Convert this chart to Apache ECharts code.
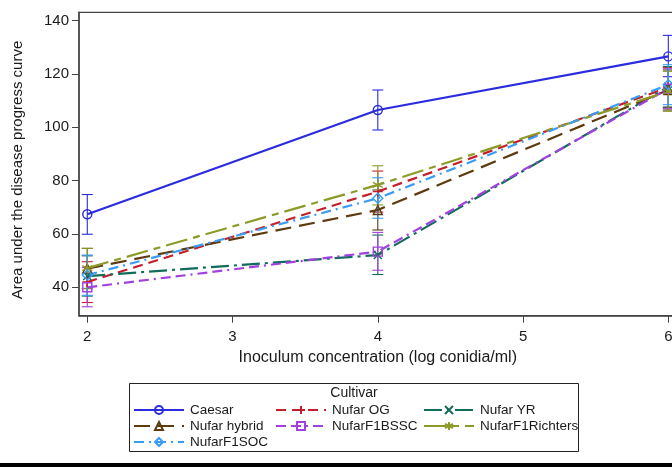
<!DOCTYPE html>
<html><head><meta charset="utf-8">
<script src="https://cdn.jsdelivr.net/npm/echarts@6/dist/echarts.min.js"></script>
<style>html,body{margin:0;padding:0;background:#fff}#c{width:672px;height:468px}</style>
</head><body><div id="c"></div>
<script>
// ---- data ----
const xValues = [2, 4, 6];
const xTicks = [2, 3, 4, 5, 6];
const yTicks = [40, 60, 80, 100, 120, 140];
const cultivars = ['Caesar', 'Nufar OG', 'Nufar YR', 'Nufar hybrid', 'NufarF1BSSC', 'NufarF1Richters', 'NufarF1SOC'];

const caesarMean = [67.4, 106.5, 126.6];
const caesarLow  = [59.9, 99.0, 119.0];
const caesarHigh = [74.8, 114.0, 134.5];

const ogMean = [42.0, 75.9, 115.0];
const ogLow  = [34.3, 68.2, 107.5];
const ogHigh = [49.6, 83.6, 122.5];

const yrMean = [44.2, 52.1, 115.2];
const yrLow  = [36.7, 44.8, 107.6];
const yrHigh = [51.8, 59.6, 122.8];

const hybridMean = [47.0, 69.0, 114.0];
const hybridLow  = [39.5, 61.5, 106.5];
const hybridHigh = [54.6, 76.5, 121.5];

const bsscMean = [40.0, 53.4, 114.5];
const bsscLow  = [32.7, 46.4, 107.0];
const bsscHigh = [47.4, 60.6, 122.0];

const richtersMean = [47.2, 78.4, 113.5];
const richtersLow  = [39.6, 70.9, 106.0];
const richtersHigh = [54.6, 85.6, 121.0];

const socMean = [44.6, 73.4, 116.0];
const socLow  = [37.0, 65.9, 108.5];
const socHigh = [52.1, 81.1, 123.5];

// ---- styles ----
const FONT = 'Liberation Sans, Arial, sans-serif';
const styles = {
  'Caesar':          {color: '#2b2be0', dash: 'solid',             symbol: 'circle',   size: 9},
  'Nufar OG':        {color: '#c41e2a', dash: [10, 6],             symbol: 'path://M5 0 L5 10 M0 5 L10 5', size: 10},
  'Nufar YR':        {color: '#136b5b', dash: [18, 5, 3, 5],       symbol: 'path://M0 0 L10 10 M10 0 L0 10', size: 8},
  'Nufar hybrid':    {color: '#5e3a0f', dash: [16, 8],             symbol: 'triangle', size: 9},
  'NufarF1BSSC':     {color: '#a340e0', dash: [10, 5, 10, 5, 2, 5], symbol: 'rect',    size: 9},
  'NufarF1Richters': {color: '#8c9a28', dash: [22, 6, 7, 6],       symbol: 'path://M5 0 L5 10 M0 2.5 L10 7.5 M0 7.5 L10 2.5', size: 10},
  'NufarF1SOC':      {color: '#3a9cf5', dash: [10, 5, 2, 5],       symbol: 'diamond',  size: 10}
};
const dataMap = {
  'Caesar': [caesarMean, caesarLow, caesarHigh],
  'Nufar OG': [ogMean, ogLow, ogHigh],
  'Nufar YR': [yrMean, yrLow, yrHigh],
  'Nufar hybrid': [hybridMean, hybridLow, hybridHigh],
  'NufarF1BSSC': [bsscMean, bsscLow, bsscHigh],
  'NufarF1Richters': [richtersMean, richtersLow, richtersHigh],
  'NufarF1SOC': [socMean, socLow, socHigh]
};

const series = [];
cultivars.forEach(name => {
  const s = styles[name];
  const [m, lo, hi] = dataMap[name];
  series.push({
    type: 'custom', name: name + ' CI', silent: true, z: 2,
    data: xValues.map((x, i) => [x, lo[i], hi[i]]),
    encode: {x: 0, y: [1, 2]},
    renderItem: function (params, api) {
      const p1 = api.coord([api.value(0), api.value(1)]);
      const p2 = api.coord([api.value(0), api.value(2)]);
      const w = 5.5;
      const st = {stroke: s.color, lineWidth: 1.1};
      return {type: 'group', children: [
        {type: 'line', shape: {x1: p1[0], y1: p1[1], x2: p2[0], y2: p2[1]}, style: st},
        {type: 'line', shape: {x1: p1[0] - w, y1: p1[1], x2: p1[0] + w, y2: p1[1]}, style: st},
        {type: 'line', shape: {x1: p2[0] - w, y1: p2[1], x2: p2[0] + w, y2: p2[1]}, style: st}
      ]};
    }
  });
});
cultivars.forEach(name => {
  const s = styles[name];
  const [m] = dataMap[name];
  series.push({
    type: 'line', name: name, z: 3,
    data: xValues.map((x, i) => [x, m[i]]),
    symbol: s.symbol, symbolSize: s.size, showSymbol: true,
    lineStyle: {color: s.color, width: 2.2, type: s.dash},
    itemStyle: {color: 'none', borderColor: s.color, borderWidth: 1.4},
    emphasis: {disabled: true}, animation: false
  });
});

const legendPos = {
  'Caesar': [133, 411], 'Nufar OG': [275, 411], 'Nufar YR': [423, 411],
  'Nufar hybrid': [133, 427], 'NufarF1BSSC': [275, 427], 'NufarF1Richters': [423, 427],
  'NufarF1SOC': [133, 443]
};
const legends = cultivars.map(name => ({
  data: [name], left: legendPos[name][0], top: legendPos[name][1] - 8,
  padding: 0, itemWidth: 50, itemHeight: 10, itemGap: 0,
  selectedMode: false,
  textStyle: {fontFamily: FONT, fontSize: 13.5, color: '#1a1a1a', padding: [0, 0, 0, 1]}
}));

const chart = echarts.init(document.getElementById('c'), null, {renderer: 'canvas'});
chart.setOption({
  animation: false,
  backgroundColor: '#fff',
  grid: {left: 79, top: 12.3, width: 597.6, height: 303.4, show: true, borderColor: '#444', borderWidth: 1.2,
         containLabel: false, outerBoundsMode: 'none'},
  xAxis: {
    type: 'value', min: 1.943, max: 6.057,
    name: 'Inoculum concentration (log conidia/ml)', nameLocation: 'middle', nameGap: 28,
    nameTextStyle: {fontFamily: FONT, fontSize: 16, color: '#1a1a1a'},
    axisLine: {lineStyle: {color: '#444', width: 1.5}},
    axisTick: {length: 7, lineStyle: {color: '#444'}, customValues: xTicks},
    axisLabel: {customValues: xTicks, fontFamily: FONT, fontSize: 15, color: '#1a1a1a', margin: 14},
    splitLine: {show: false}
  },
  yAxis: {
    type: 'value', min: 29.35, max: 143.15,
    axisLine: {show: true, lineStyle: {color: '#444', width: 1.5}},
    axisTick: {show: true, length: 7, lineStyle: {color: '#444'}, customValues: yTicks},
    axisLabel: {customValues: yTicks, fontFamily: FONT, fontSize: 15, color: '#1a1a1a', margin: 10},
    splitLine: {show: false}
  },
  legend: legends,
  graphic: [
    {type: 'text', x: 18, y: 170, rotation: Math.PI / 2,
     style: {text: 'Area under the disease progress curve', fontFamily: FONT, fontSize: 15, fill: '#1a1a1a', align: 'center', verticalAlign: 'middle'}},
    {type: 'rect', shape: {x: 129.5, y: 383.5, width: 449, height: 68}, style: {fill: 'none', stroke: '#222', lineWidth: 1}, z: 0},
    {type: 'text', x: 354, y: 393, style: {text: 'Cultivar', fontFamily: FONT, fontSize: 14, fill: '#1a1a1a', align: 'center', verticalAlign: 'middle'}},
    {type: 'rect', shape: {x: 0, y: 463, width: 672, height: 4}, style: {fill: '#000'}}
  ],
  series: series
});
</script></body></html>
